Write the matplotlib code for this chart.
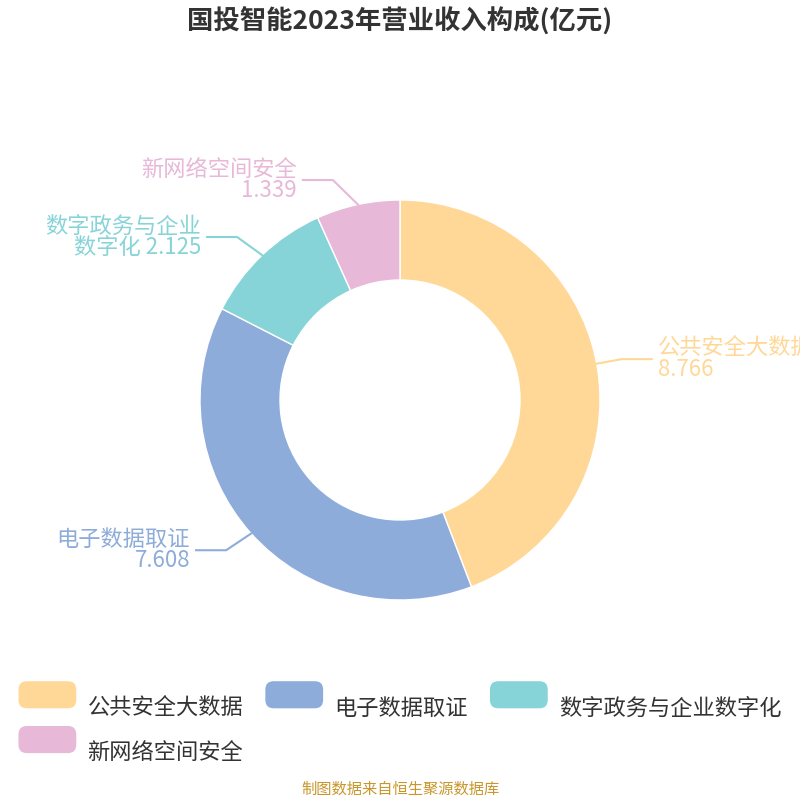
import matplotlib
matplotlib.use("Agg")
import matplotlib.pyplot as plt
import numpy as np
from matplotlib.patches import FancyBboxPatch
from matplotlib.legend_handler import HandlerPatch

plt.rcParams['font.family'] = ['Noto Sans CJK SC', 'DejaVu Sans']

categories = ['公共安全大数据', '电子数据取证', '数字政务与企业数字化', '新网络空间安全']
values = [8.766, 7.608, 2.125, 1.339]
label_texts = ['公共安全大数据\n8.766', '电子数据取证\n7.608', '数字政务与企业\n数字化 2.125', '新网络空间安全\n1.339']
colors = ['#FFD898', '#8EACDA', '#86D4D8', '#E8B8D8']

fig = plt.figure(figsize=(8, 8), dpi=100)
ax = fig.add_axes([0, 0, 1, 1])

cx, cy, R = 400, 400, 200
wedges, _ = ax.pie(values, colors=colors, startangle=90, counterclock=False,
                   radius=R, center=(cx, cy), frame=True,
                   wedgeprops=dict(width=80, edgecolor='white', linewidth=1))
ax.set_xlim(0, 800); ax.set_ylim(0, 800); ax.set_aspect('equal'); ax.axis('off')

for w, txt, c in zip(wedges, label_texts, colors):
    ang = np.deg2rad((w.theta1 + w.theta2) / 2)
    x0, y0 = cx + R*np.cos(ang), cy + R*np.sin(ang)
    s = 1 if np.cos(ang) >= 0 else -1
    x1 = cx + (R+25)*np.cos(ang) + s*25*(1-abs(np.cos(ang)))
    y1 = cy + (R+25)*np.sin(ang)
    x2 = x1 + s*30
    ax.plot([x0, x1, x2], [y0, y1, y1], color=c, lw=1.5)
    ax.text(x2 + s*6, y1, txt, ha='left' if s > 0 else 'right', va='center',
            color=c, fontsize=16, linespacing=0.9, multialignment='right' if s < 0 else 'left')

fig.text(0.5, 0.973, '国投智能2023年营业收入构成(亿元)', ha='center', va='center',
         fontsize=19, fontweight='bold', color='#333333')

class RoundHandler(HandlerPatch):
    def create_artists(self, legend, orig, xd, yd, w, h, fs, trans):
        p = FancyBboxPatch((xd, yd), w, h, boxstyle='round,pad=0,rounding_size=6',
                           fc=orig.get_facecolor(), ec='none', transform=trans)
        return [p]

hm = {w: RoundHandler() for w in wedges}
kw = dict(frameon=False, fontsize=16, handlelength=2.6, handleheight=1.5,
          columnspacing=1.0, handletextpad=0.5, handler_map=hm, borderaxespad=0)
leg1 = fig.legend(wedges[:3], categories[:3], loc='center left', bbox_to_anchor=(0.012, 0.116), ncol=3, **kw)
leg2 = fig.legend(wedges[3:], categories[3:], loc='center left', bbox_to_anchor=(0.012, 0.060), ncol=1, **kw)
for lg in (leg1, leg2):
    for t in lg.get_texts():
        t.set_color('#333333')

fig.text(0.5, 0.013, '制图数据来自恒生聚源数据库', ha='center', va='center',
         fontsize=11, color='#C8962A')

fig.savefig('out.png', dpi=100)
